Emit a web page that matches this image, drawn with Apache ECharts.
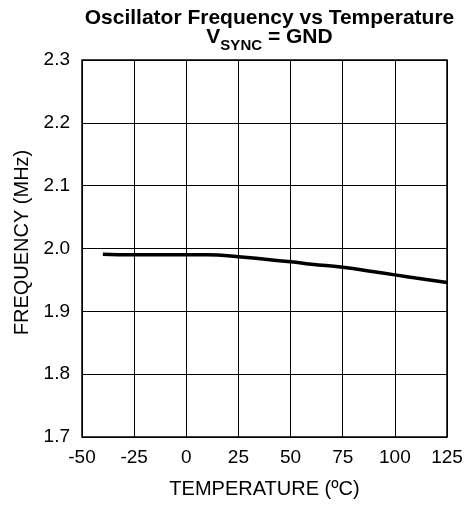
<!DOCTYPE html>
<html><head><meta charset="utf-8">
<script src="https://cdn.jsdelivr.net/npm/echarts@6/dist/echarts.min.js"></script>
<style>html,body{margin:0;padding:0;background:#fff}#c{width:466px;height:506px}</style>
</head><body><div id="c"></div>
<script>
const temperature = [-40, -25, -10, 0, 10, 25, 40, 50, 60, 75, 90, 100, 110, 125];
const frequency = [1.991, 1.990, 1.990, 1.990, 1.990, 1.987, 1.982, 1.979, 1.975, 1.970, 1.963, 1.958, 1.953, 1.946];
const xTicks = [-50, -25, 0, 25, 50, 75, 100, 125];
const yTicks = [1.7, 1.8, 1.9, 2.0, 2.1, 2.2, 2.3];
const titleMain = 'Oscillator Frequency vs Temperature';
const xName = 'TEMPERATURE (ºC)';
const yName = 'FREQUENCY (MHz)';

const FONT = 'Liberation Sans, Arial, sans-serif';
const chart = echarts.init(document.getElementById('c'), null, {renderer: 'canvas'});
chart.setOption({
  animation: false,
  backgroundColor: '#fff',
  title: [
    {text: titleMain, left: 264.5, top: 3, textAlign: 'center',
     textStyle: {fontFamily: FONT, fontSize: 21, fontWeight: 'bold', color: '#000'}},
    {text: '{a|V}{s|SYNC}{a| = GND}', left: 264.5, top: 19, textAlign: 'center',
     textStyle: {rich: {
       a: {fontFamily: FONT, fontSize: 21, fontWeight: 'bold', color: '#000', lineHeight: 24, verticalAlign: 'bottom'},
       s: {fontFamily: FONT, fontSize: 15, fontWeight: 'bold', color: '#000', lineHeight: 24, verticalAlign: 'bottom', padding: [0, 0, -5, 0]}
     }}}
  ],
  grid: {left: 82, right: 19, top: 60, bottom: 69, show: true, borderColor: '#000', borderWidth: 1.5, backgroundColor: 'transparent'},
  xAxis: {
    type: 'value', min: xTicks[0], max: xTicks[xTicks.length - 1], interval: 25,
    name: xName, nameLocation: 'middle', nameGap: 42,
    nameTextStyle: {fontFamily: FONT, fontSize: 20, color: '#000'},
    axisLine: {show: false}, axisTick: {show: false},
    axisLabel: {fontFamily: FONT, fontSize: 19, color: '#000', margin: 11, showMaxLabel: true, showMinLabel: true},
    splitLine: {show: true, lineStyle: {color: '#000', width: 1}}
  },
  yAxis: {
    type: 'value', min: yTicks[0], max: yTicks[yTicks.length - 1], interval: 0.1,
    name: yName, nameLocation: 'middle', nameGap: 50,
    nameTextStyle: {fontFamily: FONT, fontSize: 20, color: '#000', padding: [0, 0, 0, 12]},
    axisLine: {show: false}, axisTick: {show: false},
    axisLabel: {fontFamily: FONT, fontSize: 19, color: '#000', margin: 12,
      formatter: v => v.toFixed(1)},
    splitLine: {show: true, lineStyle: {color: '#000', width: 1}}
  },
  series: [{
    type: 'line', data: temperature.map((t, i) => [t, frequency[i]]),
    smooth: true, showSymbol: false, lineStyle: {color: '#000', width: 3.5}
  }]
});
</script></body></html>
